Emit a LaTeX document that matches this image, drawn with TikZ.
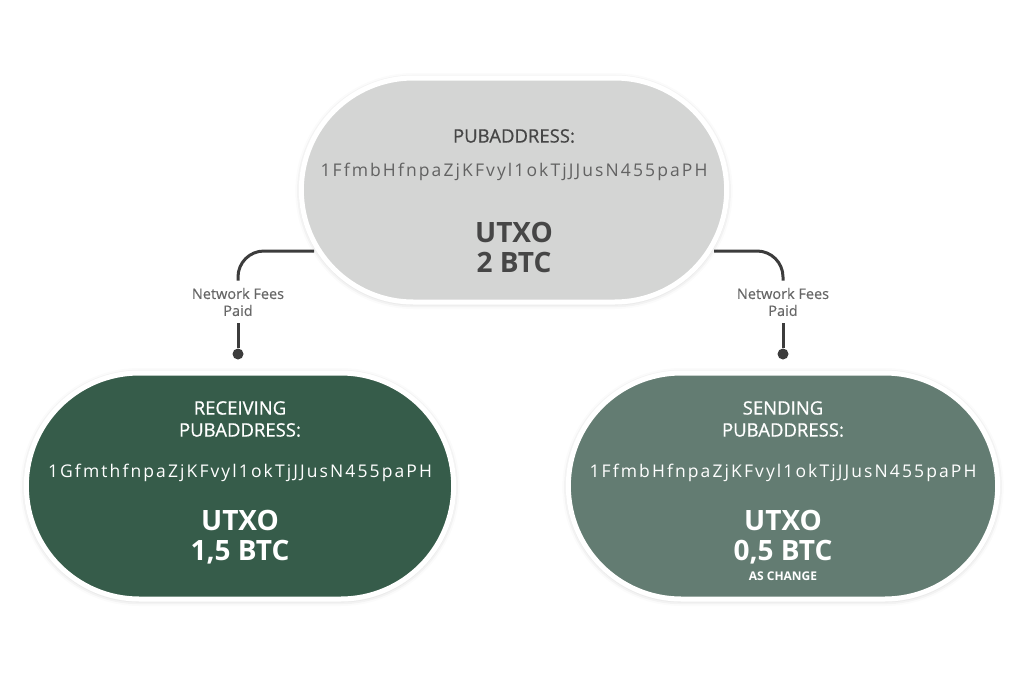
\documentclass[tikz,border=0pt]{standalone}
\usepackage{fontspec}
\setmainfont{Open Sans}
\usetikzlibrary{shapes.misc,shadows.blur,backgrounds}

\definecolor{utxogray}{HTML}{D4D5D4}
\definecolor{recvgreen}{HTML}{365C4A}
\definecolor{sendgreen}{HTML}{637C72}
\definecolor{darktext}{HTML}{464646}
\definecolor{feetext}{HTML}{666666}
\definecolor{linkgray}{HTML}{3C3C3C}

\begin{document}
\begin{tikzpicture}[x=1pt,y=-1pt,
  utxo/.style={rounded rectangle, draw=white, line width=5pt,
    minimum width=432pt, minimum height=224pt,
    blur shadow={shadow xshift=0pt, shadow yshift=-1pt, shadow opacity=25, shadow blur radius=6pt}},
  txt/.style={inner sep=0pt, align=center},
  caps/.style={txt, font=\fontsize{18.5}{22}\selectfont\addfontfeatures{FakeBold=0.7}},
  addr/.style={txt, font=\fontsize{17.5}{20}\selectfont\addfontfeatures{LetterSpace=12}},
  amount/.style={txt, font=\fontsize{28}{30}\selectfont\bfseries},
  fees/.style={txt, text=feetext, font=\fontsize{14.5}{17}\selectfont\addfontfeatures{FakeBold=0.4}, inner sep=7pt},
  link/.style={draw=linkgray, line width=3pt, rounded corners=26pt},
  dot/.style={circle, fill=linkgray, inner sep=0pt, minimum size=11pt}]
 \useasboundingbox (0,0) rectangle (1024,672);
 % the three outputs
 \node[utxo, fill=utxogray] (src) at (514,190) {};
 \node[utxo, fill=recvgreen, minimum width=434pt, minimum height=226pt] (recv) at (240,486) {};
 \node[utxo, fill=sendgreen, minimum width=436pt, minimum height=226pt] (send) at (783,486) {};
 % source text
 \node[caps, text=darktext] (srctitle) at (514,136) {PUBADDRESS:};
 \node[addr, text=darktext!85] (srcaddr) at (514,172) {1FfmbHfnpaZjKFvyl1okTjJJusN455paPH};
 \node[amount, text=darktext] (srcamt) at (514,247) {UTXO\\2 BTC};
 % receiving text
 \node[caps, text=white] (recvtitle) at (240,419) {RECEIVING\\PUBADDRESS:};
 \node[addr, text=white] (recvaddr) at (240,473) {1GfmthfnpaZjKFvyl1okTjJJusN455paPH};
 \node[amount, text=white] (recvamt) at (240,537) {UTXO\\1,5 BTC};
 % sending text
 \node[caps, text=white] (sendtitle) at (783,419) {SENDING\\PUBADDRESS:};
 \node[addr, text=white] (sendaddr) at (783,473) {1FfmbHfnpaZjKFvyl1okTjJJusN455paPH};
 \node[amount, text=white] (sendamt) at (783,537) {UTXO\\0,5 BTC};
 \node[txt, text=white, font=\fontsize{12}{13}\selectfont\bfseries] (sendnote) at (783,576) {AS CHANGE};
 % fees labels and dots
 \node[fees] (feesl) at (238,302) {Network Fees\\Paid};
 \node[fees] (feesr) at (783,302) {Network Fees\\Paid};
 \node[dot] (dotl) at (238,354) {};
 \node[dot] (dotr) at (783,354) {};
 \begin{pgfonlayer}{background}
  \draw[link] (src.center) ++(-200,61) -| (feesl.north);
  \draw[link] (src.center) ++(200,61) -| (feesr.north);
 \end{pgfonlayer}
 \draw[link] (feesl.south) -- (dotl);
 \draw[link] (feesr.south) -- (dotr);
\end{tikzpicture}
\end{document}
